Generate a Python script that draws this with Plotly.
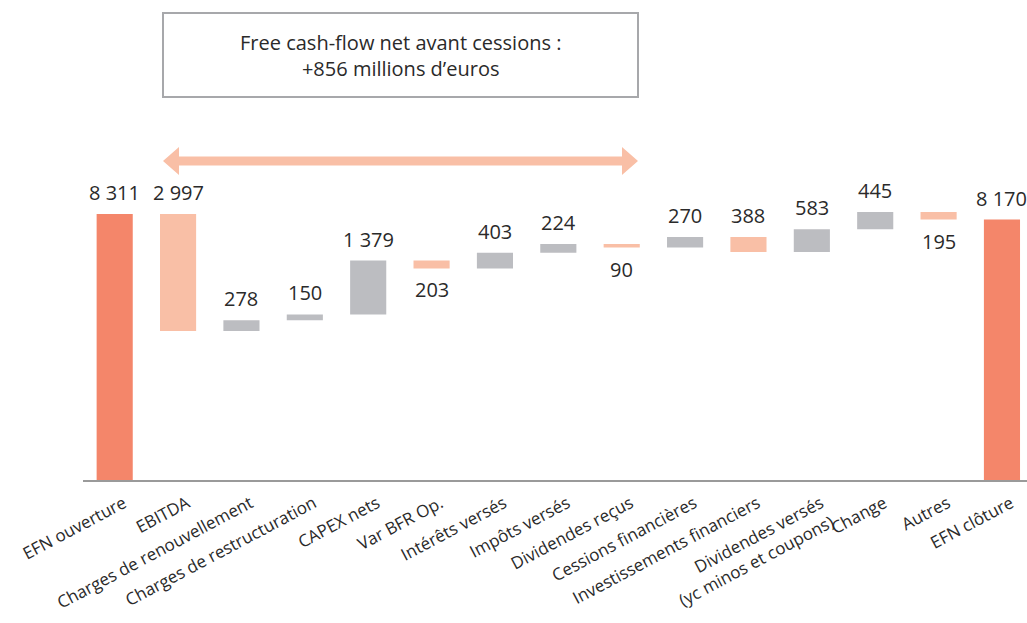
import plotly.graph_objects as go

# ---- data ----
categories = ["EFN ouverture", "EBITDA", "Charges de renouvellement", "Charges de restructuration",
              "CAPEX nets", "Var BFR Op.", "Intérêts versés", "Impôts versés", "Dividendes reçus",
              "Cessions financières", "Investissements financiers",
              "Dividendes versés<br>(yc minos et coupons)", "Change", "Autres", "EFN clôture"]
measures = ["absolute", "relative", "relative", "relative", "relative", "relative", "relative",
            "relative", "relative", "relative", "relative", "relative", "relative", "relative", "total"]
values = [8311, -2997, 278, 150, 1379, -203, 403, 224, -90, 270, -388, 583, 445, -195, 8170]
box_text = "Free cash-flow net avant cessions :<br>+856 millions d’euros"

# ---- style ----
label_side = ["up", "up", "up", "up", "up", "down", "up", "up", "down", "up", "up", "up", "up", "down", "up"]
C_TOTAL = "#F4866A"
C_DEC = "#F9BFA6"
C_INC = "#BCBDC1"
FONT = "Open Sans"
TXT = "#2A2A2A"

W, H = 1027, 623
ML, MR, MT, MB = 83, 0, 0, 143
PW, PH = W - ML - MR, H - MT - MB

def px_x(p):
    return (p - ML) / PW

def px_y(p):
    return (H - MB - p) / PH

fig = go.Figure()
fig.add_trace(go.Waterfall(
    x=categories, y=values, measure=measures,
    increasing=dict(marker=dict(color=C_INC)),
    decreasing=dict(marker=dict(color=C_DEC)),
    totals=dict(marker=dict(color=C_TOTAL)),
    connector=dict(visible=False),
    textposition="none", width=0.57, hoverinfo="skip",
))

# value labels via cumulative bar extents
cum = 0
for cat, m, v, side in zip(categories, measures, values, label_side):
    if m == "absolute":
        lo, hi = 0, v
        cum = v
    elif m == "total":
        lo, hi = 0, cum
    else:
        lo, hi = min(cum, cum + v), max(cum, cum + v)
        cum += v
    txt = f"{abs(v):,}".replace(",", " ")
    if side == "up":
        fig.add_annotation(x=cat, y=hi, text=txt, showarrow=False, yanchor="bottom", yshift=6,
                           font=dict(family=FONT, size=20, color=TXT))
    else:
        fig.add_annotation(x=cat, y=lo, text=txt, showarrow=False, yanchor="top", yshift=-6,
                           font=dict(family=FONT, size=20, color=TXT))

# box with text
fig.add_shape(type="rect", xref="paper", yref="paper",
              x0=px_x(163), x1=px_x(638), y0=px_y(97), y1=px_y(13),
              line=dict(color="#A7A8AB", width=2), fillcolor="white", layer="below")
fig.add_annotation(xref="paper", yref="paper", x=px_x(400.5), y=px_y(55), text=box_text,
                   showarrow=False, xanchor="center", yanchor="middle",
                   font=dict(family=FONT, size=20, color=TXT))

# double arrow
xl, xr, yc = 163, 638, 161
hl, hh, sh = 16, 14, 4.5
pts = [(xl, yc), (xl + hl, yc - hh), (xl + hl, yc - sh), (xr - hl, yc - sh), (xr - hl, yc - hh),
       (xr, yc), (xr - hl, yc + hh), (xr - hl, yc + sh), (xl + hl, yc + sh), (xl + hl, yc + hh)]
path = "M " + " L ".join(f"{px_x(a):.5f},{px_y(b):.5f}" for a, b in pts) + " Z"
fig.add_shape(type="path", xref="paper", yref="paper", path=path,
              fillcolor=C_DEC, line=dict(width=0))

fig.update_layout(
    width=W, height=H, margin=dict(l=ML, r=MR, t=MT, b=MB),
    paper_bgcolor="white", plot_bgcolor="white", showlegend=False,
    xaxis=dict(type="category", range=[-0.5, 14.395], showline=True, linecolor="#9A9A9A",
               linewidth=2, ticks="", tickangle=-28, showgrid=False,
               ticklabelshift=9, ticklabelstandoff=5,
               tickfont=dict(family=FONT, size=17, color=TXT)),
    yaxis=dict(visible=False, range=[1500, 13795], showgrid=False, zeroline=False),
)

fig.write_html("out.html")
